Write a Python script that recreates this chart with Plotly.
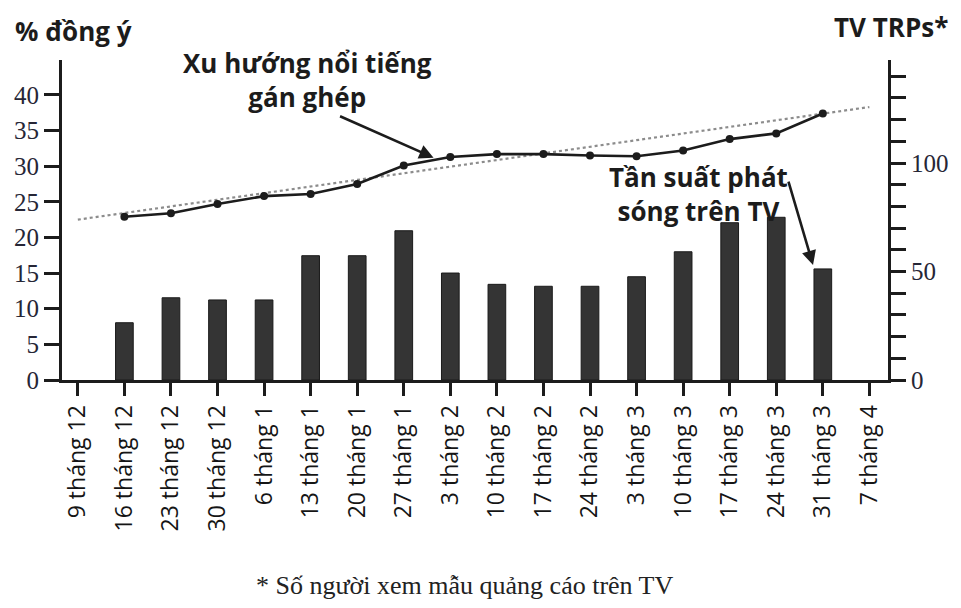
import plotly.graph_objects as go

# dữ liệu
weeks = ['9 tháng 12', '16 tháng 12', '23 tháng 12', '30 tháng 12', '6 tháng 1', '13 tháng 1',
         '20 tháng 1', '27 tháng 1', '3 tháng 2', '10 tháng 2', '17 tháng 2', '24 tháng 2',
         '3 tháng 3', '10 tháng 3', '17 tháng 3', '24 tháng 3', '31 tháng 3', '7 tháng 4']
agree_pct = [None, 22.9, 23.4, 24.7, 25.8, 26.1, 27.5, 30.1, 31.3, 31.7, 31.7, 31.5,
             31.4, 32.2, 33.8, 34.6, 37.4, None]
tv_trps = [None, 26.4, 37.9, 36.9, 36.9, 57.3, 57.3, 68.8, 49.3, 44.1, 43.2, 43.2,
           47.6, 59.1, 72.5, 75.0, 51.2, None]
trend_idx = [0, 17]
trend_pct = [22.5, 38.3]

left_ticks = [0, 5, 10, 15, 20, 25, 30, 35, 40]
right_ticks = list(range(0, 150, 10))
right_text = ['0' if v == 0 else '50' if v == 50 else '100' if v == 100 else '' for v in right_ticks]

idx = list(range(len(weeks)))
ink = '#1c1c1c'
sans = 'Open Sans'
serif = 'Liberation Serif'

fig = go.Figure()
fig.add_trace(go.Bar(x=idx, y=tv_trps, yaxis='y2', width=0.38,
                     marker=dict(color='#343434', line=dict(color='#1a1a1a', width=1))))
fig.add_trace(go.Scatter(x=trend_idx, y=trend_pct, mode='lines',
                         line=dict(color='#8c8c8c', width=2.2, dash='dot')))
fig.add_trace(go.Scatter(x=idx, y=agree_pct, mode='lines+markers',
                         line=dict(color=ink, width=2.6), marker=dict(color=ink, size=8)))

fig.update_layout(
    width=961, height=608, showlegend=False,
    plot_bgcolor='white', paper_bgcolor='white',
    margin=dict(l=62, r=65, t=60, b=228),
    xaxis=dict(range=[-0.34, 17.4], tickvals=idx, ticktext=weeks, tickangle=-90,
               showline=True, linecolor=ink, linewidth=3, ticks='outside', ticklen=13,
               tickwidth=3, tickcolor=ink, showgrid=False, zeroline=False,
               tickfont=dict(family=sans, size=23, color='#151515')),
    yaxis=dict(range=[0, 44.9], tickvals=left_ticks, showline=True, linecolor=ink,
               linewidth=3, ticks='outside', ticklen=15, tickwidth=3, tickcolor=ink,
               showgrid=False, zeroline=False,
               tickfont=dict(family=serif, size=25, color='#262636')),
    yaxis2=dict(range=[0, 147.5], overlaying='y', side='right', tickvals=right_ticks,
                ticktext=right_text, showline=True, linecolor=ink, linewidth=3,
                ticks='outside', ticklen=15, tickwidth=3, tickcolor=ink,
                showgrid=False, zeroline=False,
                tickfont=dict(family=serif, size=25, color='#262636')),
)

bold = dict(family=sans, size=26, color=ink)
fig.add_annotation(text='<b>% đồng ý</b>', xref='paper', yref='paper', x=-0.059, y=1.09,
                   xanchor='left', yanchor='middle', showarrow=False, font=bold)
fig.add_annotation(text='<b>TV TRPs*</b>', xref='paper', yref='paper', x=1.075, y=1.103,
                   xanchor='right', yanchor='middle', showarrow=False, font=bold)
fig.add_annotation(text='<b>Xu hướng nổi tiếng<br>gán ghép</b>', x=4.94, y=42.1,
                   showarrow=False, font=bold)
fig.add_annotation(text='<b>Tần suất phát<br>sóng trên TV</b>', x=13.32, y=26.1,
                   showarrow=False, font=bold)
# mũi tên
fig.add_annotation(text='', x=7.64, y=31.2, ax=-95, ay=-42, showarrow=True,
                   arrowhead=2, arrowsize=1.1, arrowwidth=2.6, arrowcolor=ink)
fig.add_annotation(text='', x=15.79, y=53, yref='y2', ax=-25, ay=-85, showarrow=True,
                   arrowhead=2, arrowsize=1.1, arrowwidth=2.6, arrowcolor=ink)
fig.add_annotation(text='* Số người xem mẫu quảng cáo trên TV', xref='paper', yref='paper',
                   x=0.488, y=-0.694, showarrow=False,
                   font=dict(family=serif, size=26, color='#222'))

fig.write_html('out.html', config={'displayModeBar': False},
               post_script="document.body.style.margin='0';")
